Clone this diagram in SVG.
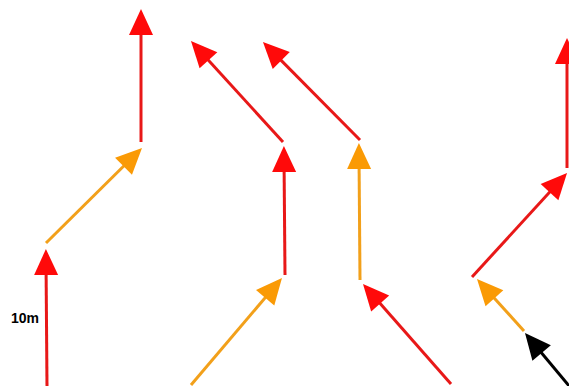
<svg xmlns="http://www.w3.org/2000/svg" width="569" height="386" viewBox="0 0 569 386">
<style>
.r{stroke:#e81818;stroke-width:3;fill:none;marker-end:url(#hr)}
.o{stroke:#f2a01a;stroke-width:3;fill:none;marker-end:url(#ho)}
.k{stroke:#000;stroke-width:3;fill:none;marker-end:url(#hk)}
.lbl{font-family:"Liberation Sans",Arial,sans-serif;font-size:14px;font-weight:bold;fill:#000}
</style>
<defs>
<marker id="hr" markerUnits="userSpaceOnUse" markerWidth="26" markerHeight="24" viewBox="0 -12 26 24" refX="16" refY="0" orient="auto" overflow="visible"><path d="M0,-12 L26,0 L0,12 z" fill="#ff0a0a"/></marker>
<marker id="ho" markerUnits="userSpaceOnUse" markerWidth="26" markerHeight="24" viewBox="0 -12 26 24" refX="16" refY="0" orient="auto" overflow="visible"><path d="M0,-12 L26,0 L0,12 z" fill="#fa9a05"/></marker>
<marker id="hk" markerUnits="userSpaceOnUse" markerWidth="26" markerHeight="24" viewBox="0 -12 26 24" refX="16" refY="0" orient="auto" overflow="visible"><path d="M0,-12 L26,0 L0,12 z" fill="#000"/></marker>
</defs>
<g id="connectors">
<line class="r" x1="47" y1="386" x2="46" y2="259"/>
<line class="o" x1="46" y1="243" x2="134.9" y2="155"/>
<line class="r" x1="141" y1="142" x2="141" y2="19"/>
<line class="r" x1="283" y1="142" x2="197.7" y2="48.4"/>
<line class="r" x1="360" y1="140" x2="270" y2="49.1"/>
<line class="r" x1="285" y1="275" x2="284" y2="156"/>
<line class="o" x1="360" y1="280" x2="359" y2="153"/>
<line class="o" x1="191" y1="385" x2="275.5" y2="285.6"/>
<line class="r" x1="451" y1="384" x2="369.6" y2="291.5"/>
<line class="r" x1="472" y1="277" x2="560.3" y2="180.4"/>
<line class="r" x1="567" y1="168" x2="567" y2="48"/>
<line class="o" x1="524" y1="331" x2="483.7" y2="286.4"/>
<line class="k" x1="575" y1="393" x2="531.4" y2="340.7"/>
</g>
<g id="label">
<text class="lbl" x="11" y="323">10m</text>
</g>
</svg>
